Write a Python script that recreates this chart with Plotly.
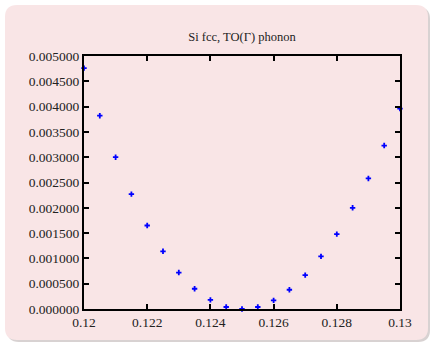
import plotly.graph_objects as go

x_vals = [0.1200, 0.1205, 0.1210, 0.1215, 0.1220, 0.1225, 0.1230, 0.1235, 0.1240, 0.1245,
          0.1250, 0.1255, 0.1260, 0.1265, 0.1270, 0.1275, 0.1280, 0.1285, 0.1290, 0.1295, 0.1300]
y_vals = [0.00476, 0.00382, 0.00300, 0.00227, 0.00165, 0.00114, 0.00072, 0.00040, 0.00018, 0.00004,
          0.00000, 0.00004, 0.00017, 0.00038, 0.00067, 0.00104, 0.00148, 0.00200, 0.00258, 0.00323, 0.00396]
x_ticks = [0.12, 0.122, 0.124, 0.126, 0.128, 0.13]
x_tick_labels = ["0.12", "0.122", "0.124", "0.126", "0.128", "0.13"]
y_ticks = [i * 0.0005 for i in range(11)]
y_tick_labels = ["%.6f" % v for v in y_ticks]
title = "Si fcc, TO(Γ) phonon"

W, H = 431, 344
L, R, T, B = 84, 31, 56, 35
pw, ph = W - L - R, H - T - B

def px(x):
    return (x - L) / pw

def py(y):
    return (H - B - y) / ph

def rrect(x0, y0, x1, y1, r):
    rx, ry = r / pw, r / ph
    X0, X1 = px(x0), px(x1)
    Y0, Y1 = py(y0), py(y1)
    return (f"M {X0+rx},{Y0} L {X1-rx},{Y0} Q {X1},{Y0} {X1},{Y0-ry} "
            f"L {X1},{Y1+ry} Q {X1},{Y1} {X1-rx},{Y1} L {X0+rx},{Y1} "
            f"Q {X0},{Y1} {X0},{Y1+ry} L {X0},{Y0-ry} Q {X0},{Y0} {X0+rx},{Y0} Z")

pink = "#f9e5e6"
font = "Liberation Serif"

fig = go.Figure()
fig.add_trace(go.Scatter(
    x=x_vals, y=y_vals, mode="markers",
    marker=dict(symbol="cross", size=4.5, color="#0000ff", line=dict(width=0)),
    cliponaxis=False, showlegend=False,
))

fig.add_shape(type="path", xref="paper", yref="paper", layer="below",
              path=rrect(7, 7, 430, 342, 12), fillcolor="#d8d2d2", line=dict(width=0))
fig.add_shape(type="path", xref="paper", yref="paper", layer="below",
              path=rrect(5, 5, 428, 340, 12), fillcolor=pink, line=dict(width=0))

axis_common = dict(
    showline=True, linecolor="black", linewidth=2, mirror="ticks",
    ticks="inside", ticklen=5, tickwidth=2, tickcolor="black",
    showgrid=False, zeroline=False, automargin=False,
    tickfont=dict(family=font, size=13.5, color="#222222"),
)

fig.update_layout(
    width=W, height=H,
    margin=dict(l=L, r=R, t=T, b=B),
    paper_bgcolor="white", plot_bgcolor=pink,
    title=dict(text=title, x=242 / W, xanchor="center", y=1 - 37 / H, yanchor="middle",
               font=dict(family=font, size=12.5, color="#222222")),
    xaxis=dict(range=[0.12, 0.13], tickvals=x_ticks, ticktext=x_tick_labels, **axis_common),
    yaxis=dict(range=[0, 0.005], tickvals=y_ticks, ticktext=y_tick_labels, **axis_common),
)

fig.write_html("out.html", config={"displayModeBar": False},
               post_script="document.body.style.margin='0';")
